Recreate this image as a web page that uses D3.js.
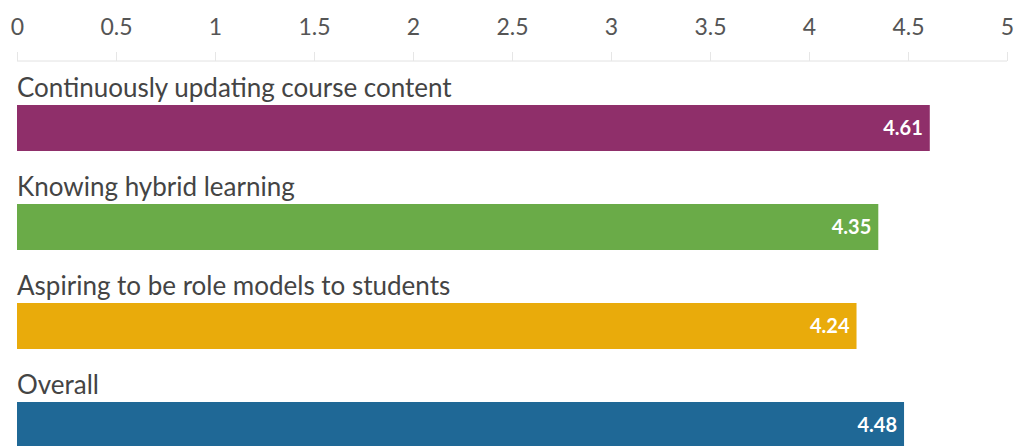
<!DOCTYPE html>
<html><head><meta charset="utf-8">
<script src="https://cdn.jsdelivr.net/npm/d3@7"></script>
<style>html,body{margin:0;padding:0;background:#fff;}svg{display:block;}</style>
</head><body>
<svg id="c" width="1014" height="446"></svg>
<script>
const categories = ["Continuously updating course content","Knowing hybrid learning","Aspiring to be role models to students","Overall"];
const values = [4.61, 4.35, 4.24, 4.48];
const colors = ["#8f2f6a","#6aab48","#e9ab0b","#1f6896"];
const tickValues = [0,0.5,1,1.5,2,2.5,3,3.5,4,4.5,5];

const svg = d3.select("#c");
const font = "Lato, 'Open Sans', sans-serif";
const x = d3.scaleLinear().domain([0,5]).range([17,1007]);
const y = d3.scaleBand().domain(categories).range([105, 105+99*4]).paddingInner(0).paddingOuter(0);
const barH = 46;

const axis = d3.axisTop(x).tickValues(tickValues).tickSize(9).tickFormat(d3.format("~g"));
const g = svg.append("g").attr("transform","translate(0,61)").call(axis);
g.select(".domain").attr("stroke","#e2e2e2").attr("d","M17,0H1007");
g.selectAll(".tick line").attr("stroke","#e6e6e6");
g.selectAll(".tick text").attr("fill","#555").style("font-family",font).style("font-size","23px").attr("dy","0").attr("y",-26);

const rows = svg.append("g").selectAll("g").data(categories).join("g");
rows.append("rect")
  .attr("x", x(0)).attr("y", d=>y(d))
  .attr("width", (d,i)=>x(values[i])-x(0)).attr("height", barH)
  .attr("fill", (d,i)=>colors[i]);
rows.append("text")
  .attr("x", x(0)).attr("y", d=>y(d)-8)
  .attr("fill","#444").style("font-family",font).style("font-size","26px")
  .text(d=>d);
rows.append("text")
  .attr("x", (d,i)=>x(values[i])-7).attr("y", d=>y(d)+barH/2+7)
  .attr("text-anchor","end").attr("fill","#fff")
  .style("font-family",font).style("font-size","20px").style("font-weight","bold")
  .text((d,i)=>values[i].toFixed(2));
</script>
</body></html>
